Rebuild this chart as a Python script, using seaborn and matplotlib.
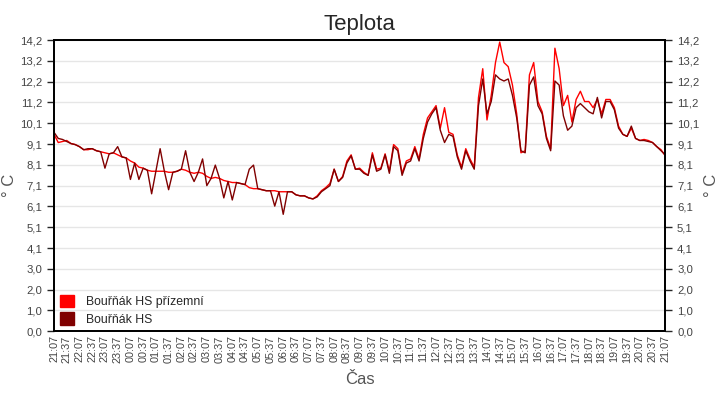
import numpy as np
import pandas as pd
import seaborn as sns
import matplotlib.pyplot as plt
from matplotlib.patches import Patch

# Values, one every 10 minutes from 21:07 to 21:07
start = '2020-05-01 21:07'
names = ['Bouřňák HS přízemní', 'Bouřňák HS']
colors = ['#ff0000', '#800000']

prizemni = [
    9.6, 9.2, 9.25, 9.3, 9.15, 9.1,
    9.0, 8.85, 8.85, 8.9, 8.8, 8.75,
    8.7, 8.65, 8.7, 8.6, 8.5, 8.45,
    8.3, 8.2, 8.0, 7.95, 7.85, 7.8,
    7.8, 7.8, 7.8, 7.75, 7.75, 7.8,
    7.9, 7.85, 7.75, 7.7, 7.75, 7.7,
    7.55, 7.45, 7.5, 7.45, 7.35, 7.3,
    7.25, 7.25, 7.2, 7.15, 7.0, 6.95,
    6.95, 6.9, 6.85, 6.85, 6.85, 6.8,
    6.8, 6.8, 6.8, 6.65, 6.6, 6.6,
    6.5, 6.45, 6.6, 6.85, 7.0, 7.2,
    7.9, 7.3, 7.55, 8.3, 8.6, 7.9,
    7.95, 7.75, 7.6, 8.7, 7.9, 7.95,
    8.65, 7.8, 9.1, 8.9, 7.7, 8.3,
    8.4, 9.0, 8.4, 9.6, 10.4, 10.7,
    11.0, 9.9, 10.9, 9.7, 9.6, 8.6,
    8.0, 8.9, 8.4, 8.0, 11.4, 12.8,
    10.3, 11.5, 13.1, 14.1, 13.1, 12.9,
    12.0, 10.6, 8.7, 8.8, 12.5, 13.1,
    11.2, 10.7, 9.5, 8.9, 13.8, 12.8,
    11.0, 11.5, 10.2, 11.3, 11.7, 11.2,
    11.2, 10.9, 11.3, 10.6, 11.3, 11.3,
    10.9, 10.0, 9.6, 9.5, 9.9, 9.4,
    9.3, 9.35, 9.3, 9.2, 9.0, 8.85,
    8.55,
]

hs = [
    9.7, 9.4, 9.35, 9.25, 9.15, 9.1,
    9.0, 8.85, 8.9, 8.9, 8.8, 8.75,
    7.95, 8.65, 8.7, 9.0, 8.5, 8.45,
    7.4, 8.2, 7.4, 7.95, 7.85, 6.7,
    7.8, 8.9, 7.8, 6.9, 7.75, 7.8,
    7.9, 8.8, 7.75, 7.3, 7.75, 8.4,
    7.1, 7.45, 8.1, 7.45, 6.5, 7.3,
    6.4, 7.25, 7.2, 7.15, 7.9, 8.1,
    6.95, 6.9, 6.85, 6.85, 6.1, 6.8,
    5.7, 6.8, 6.8, 6.65, 6.6, 6.6,
    6.5, 6.45, 6.55, 6.8, 6.95, 7.1,
    7.9, 7.3, 7.5, 8.2, 8.55, 7.9,
    7.9, 7.7, 7.6, 8.6, 7.8, 7.9,
    8.6, 7.7, 9.0, 8.8, 7.6, 8.2,
    8.3, 8.9, 8.3, 9.4, 10.2, 10.6,
    10.9, 9.8, 9.2, 9.6, 9.5, 8.5,
    7.9, 8.8, 8.3, 7.9, 11.0, 12.3,
    10.6, 11.2, 12.5, 12.3, 12.2, 12.3,
    11.5, 10.4, 8.8, 8.7, 12.0, 12.4,
    11.0, 10.6, 9.4, 8.8, 12.2, 12.0,
    10.5, 9.8, 10.0, 10.9, 11.1, 10.9,
    10.7, 10.6, 11.4, 10.4, 11.2, 11.2,
    10.8, 9.9, 9.6, 9.5, 10.0, 9.4,
    9.3, 9.3, 9.25, 9.2, 9.0, 8.8,
    8.6,
]

times = pd.date_range(start, periods=len(hs), freq='10min')
df = pd.DataFrame({'Čas': times, names[0]: prizemni, names[1]: hs})
long = df.melt(id_vars='Čas', var_name='Čidlo', value_name='Teplota')

sns.set_style('white')
plt.rcParams['font.family'] = ['Liberation Sans', 'DejaVu Sans']

fig, ax = plt.subplots(figsize=(7.2, 4), dpi=100)
fig.subplots_adjust(left=0.075, right=0.924, top=0.9, bottom=0.172)

sns.lineplot(data=long, x='Čas', y='Teplota', hue='Čidlo', hue_order=names,
             palette=colors, linewidth=1, estimator=None, legend=False, ax=ax)

# y axis: 15 evenly spaced ticks from 0 to 14.2, decimal comma
yticks = np.linspace(0, 14.2, 15)
ylabels = [f'{v:.1f}'.replace('.', ',') for v in yticks]
ax.set_ylim(0, 14.2)
ax.set_yticks(yticks, ylabels)
ax.grid(axis='y', color='#e6e6e6', linewidth=1)
ax.set_axisbelow(True)

xticks = pd.date_range(times[0], times[-1], freq='30min')
ax.set_xlim(times[0], times[-1])
ax.set_xticks(xticks, [t.strftime('%H:%M') for t in xticks], rotation=90)

ax.tick_params(axis='y', direction='out', length=5, width=1,
               labelsize=8.2, labelcolor='#444444')
ax.tick_params(axis='x', direction='in', length=4, width=1,
               labelsize=7.8, labelcolor='#444444', pad=3)

ax2 = ax.twinx()
ax2.set_ylim(0, 14.2)
ax2.set_yticks(yticks, ylabels)
ax2.tick_params(axis='y', direction='out', length=5, width=1,
                labelsize=8.2, labelcolor='#444444')
ax2.set_ylabel('° C', fontsize=12, color='#555555', labelpad=3)

for a in (ax, ax2):
    for s in a.spines.values():
        s.set_color('black')
        s.set_linewidth(1.3)

ax.set_ylabel('° C', fontsize=12, color='#555555', labelpad=2)
ax.set_xlabel('Čas', fontsize=12, color='#555555', labelpad=7)
ax.set_title('Teplota', fontsize=16, pad=7)

handles = [Patch(facecolor=c, edgecolor=c) for c in colors]
ax.legend(handles, names, loc='lower left', frameon=False, fontsize=8.8,
          handlelength=1.15, handleheight=1.15, handletextpad=1.0,
          labelspacing=0.35, borderaxespad=0.1, borderpad=0.35)

plt.savefig('out.png', dpi=100)
